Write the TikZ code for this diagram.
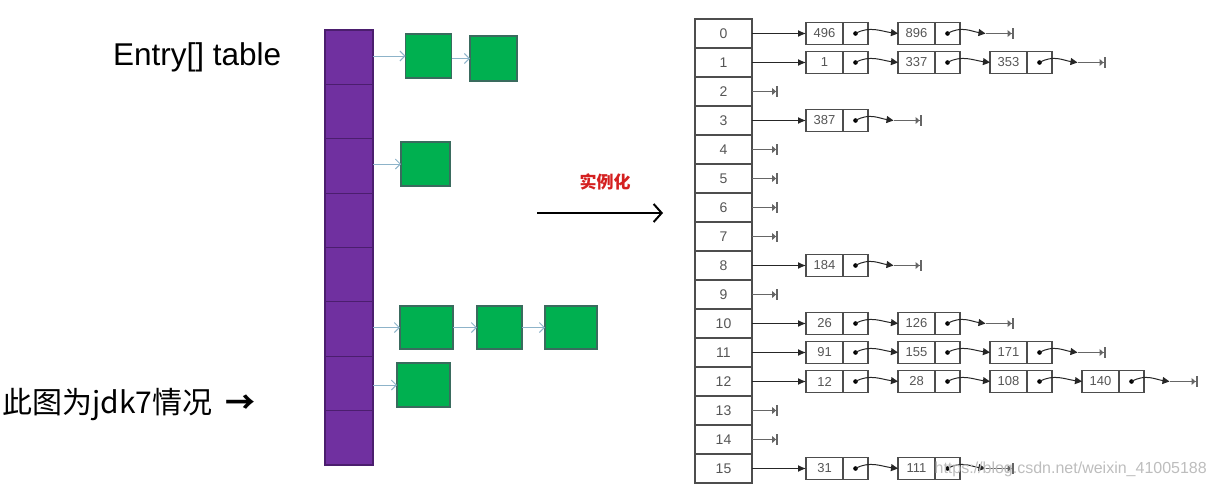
\documentclass[tikz,border=0pt]{standalone}
\usepackage{fontspec}
\setmainfont{Liberation Sans}
\newfontfamily\cjk{Noto Sans CJK SC}
\usetikzlibrary{arrows.meta,calc}
\definecolor{purplefill}{HTML}{7030A0}
\definecolor{purpleedge}{HTML}{4B1E6E}
\definecolor{greenfill}{HTML}{00B050}
\definecolor{greenedge}{HTML}{3A6B5E}
\definecolor{bluearrow}{HTML}{8DB3C9}
\definecolor{tablegray}{HTML}{4D4D4D}
\definecolor{textgray}{HTML}{555555}
\definecolor{wmgray}{HTML}{BDBDBD}
\definecolor{redlabel}{HTML}{D42020}
\tikzset{
  purplecell/.style={draw=purpleedge, fill=purplefill, line width=1.2pt, minimum width=48pt, minimum height=54.4pt, inner sep=0pt, outer sep=0pt},
  greenbox/.style={draw=greenedge, fill=greenfill, line width=1.2pt, inner sep=0pt, outer sep=0pt},
  bluelink/.style={draw=bluearrow, line width=0.9pt, -{Straight Barb[length=5pt,width=10pt,line width=0.9pt]}},
  bigarrow/.style={draw=black, line width=2pt, -{Straight Barb[length=8pt,width=18pt,line width=2pt]}},
  rowcell/.style={draw=tablegray, line width=1.2pt, minimum width=57pt, minimum height=29pt, inner sep=0pt, outer sep=0pt, text=textgray, font=\fontsize{14}{16}\selectfont},
  valbox/.style={draw=tablegray, line width=1.1pt, minimum width=37pt, minimum height=22pt, inner sep=0pt, outer sep=0pt, text=textgray, font=\fontsize{13}{15}\selectfont},
  ptrbox/.style={draw=tablegray, line width=1.1pt, minimum width=25pt, minimum height=22pt, inner sep=0pt, outer sep=0pt},
  firstlink/.style={draw=black!85, line width=1.1pt, -{Latex[length=8pt,width=7pt]}},
  nextlink/.style={draw=black!85, line width=1pt, -{Triangle[length=7pt,width=7pt]}},
  nullend/.style={draw=black!60, line width=1.3pt, -{Triangle[length=4pt,width=7pt] Bar[width=11pt,line width=2pt]}},
}
\newcommand{\hmentry}[3]{%
  \node[valbox] (v#1-#2) at ({806+92*(#2-1)+18.5}, {33.5+29*#1}) {#3};
  \node[ptrbox, anchor=west] (q#1-#2) at (v#1-#2.east) {};
  \fill[black] (q#1-#2.center) circle (2.3pt);
}
\newcommand{\hmfirst}[1]{\draw[firstlink] (r#1.east) -- (v#1-1.west);}
\newcommand{\hmlink}[3]{\draw[nextlink] (q#1-#2.center) .. controls +(14,-8) and +(-16,-2) .. (v#1-#3.west);}
\newcommand{\hmterm}[2]{%
  \coordinate (ta#1) at ($(q#1-#2.center)+(38,0)$);
  \coordinate (tb#1) at ($(q#1-#2.center)+(66,0)$);
  \draw[nextlink] (q#1-#2.center) .. controls +(14,-8) and +(-14,-2) .. (ta#1);
  \draw[nullend] (ta#1) -- (tb#1);
}
\newcommand{\hmnull}[1]{%
  \coordinate (z#1) at ($(r#1.east)+(26,0)$);
  \draw[nullend] (r#1.east) -- (z#1);
}
\begin{document}
\begin{tikzpicture}[x=1pt,y=-1pt]
\useasboundingbox (0,0) rectangle (1217,483);
% left labels
\node[anchor=base west, inner sep=0pt, font=\fontsize{31.5}{36}\selectfont] (entrylabel) at (113,65) {Entry[] table};
\node[anchor=base west, inner sep=0pt, font=\cjk\fontsize{30}{34}\selectfont] (jdklabel) at (2,413) {此图为jdk7情况\hspace{0.45em}\textbf{→}};
% purple column
\foreach \i in {0,...,7} {
  \node[purplecell] (p\i) at (349, {30+54.375*(\i+0.5)}) {};
}
% green boxes
\node[greenbox, minimum width=46pt, minimum height=44pt] (g0a) at (428.5,56) {};
\node[greenbox, minimum width=47pt, minimum height=45pt] (g0b) at (493.5,58.5) {};
\node[greenbox, minimum width=49pt, minimum height=44pt] (g2a) at (425.5,164) {};
\node[greenbox, minimum width=53pt, minimum height=43pt] (g5a) at (426.5,327.5) {};
\node[greenbox, minimum width=45pt, minimum height=43pt] (g5b) at (499.5,327.5) {};
\node[greenbox, minimum width=52pt, minimum height=43pt] (g5c) at (571,327.5) {};
\node[greenbox, minimum width=53pt, minimum height=44pt] (g6a) at (423.5,385) {};
\draw[bluelink] (p0.east |- g0a.west) -- (g0a.west);
\draw[bluelink] (g0a.east |- g0b.west) -- (g0b.west);
\draw[bluelink] (p2.east |- g2a.west) -- (g2a.west);
\draw[bluelink] (p5.east |- g5a.west) -- (g5a.west);
\draw[bluelink] (g5a.east) -- (g5b.west);
\draw[bluelink] (g5b.east) -- (g5c.west);
\draw[bluelink] (p6.east |- g6a.west) -- (g6a.west);
% big arrow
\coordinate (bigA) at (537,213);
\coordinate (bigB) at (663,213);
\draw[bigarrow] (bigA) -- (bigB);
\node[text=redlabel, font=\cjk\bfseries\fontsize{17}{19}\selectfont, inner sep=0pt] (inst) at (605,182) {实例化};
% hash table
\foreach \i in {0,...,15} {
  \node[rowcell] (r\i) at (723.5, {33.5+29*\i}) {\i};
}
% row 0
\hmentry{0}{1}{496}\hmentry{0}{2}{896}
\hmfirst{0}\hmlink{0}{1}{2}\hmterm{0}{2}
% row 1
\hmentry{1}{1}{1}\hmentry{1}{2}{337}\hmentry{1}{3}{353}
\hmfirst{1}\hmlink{1}{1}{2}\hmlink{1}{2}{3}\hmterm{1}{3}
% row 3
\hmentry{3}{1}{387}
\hmfirst{3}\hmterm{3}{1}
% row 8
\hmentry{8}{1}{184}
\hmfirst{8}\hmterm{8}{1}
% row 10
\hmentry{10}{1}{26}\hmentry{10}{2}{126}
\hmfirst{10}\hmlink{10}{1}{2}\hmterm{10}{2}
% row 11
\hmentry{11}{1}{91}\hmentry{11}{2}{155}\hmentry{11}{3}{171}
\hmfirst{11}\hmlink{11}{1}{2}\hmlink{11}{2}{3}\hmterm{11}{3}
% row 12
\hmentry{12}{1}{12}\hmentry{12}{2}{28}\hmentry{12}{3}{108}\hmentry{12}{4}{140}
\hmfirst{12}\hmlink{12}{1}{2}\hmlink{12}{2}{3}\hmlink{12}{3}{4}\hmterm{12}{4}
% row 15
\hmentry{15}{1}{31}\hmentry{15}{2}{111}
\hmfirst{15}\hmlink{15}{1}{2}\hmterm{15}{2}
% null rows
\hmnull{2}\hmnull{4}\hmnull{5}\hmnull{6}\hmnull{7}\hmnull{9}\hmnull{13}\hmnull{14}
% watermark
\node[anchor=base east, inner sep=0pt, text=wmgray, font=\fontsize{16}{18}\selectfont] (wm) at (1207,473) {https://blog.csdn.net/weixin\_41005188};
\end{tikzpicture}
\end{document}
